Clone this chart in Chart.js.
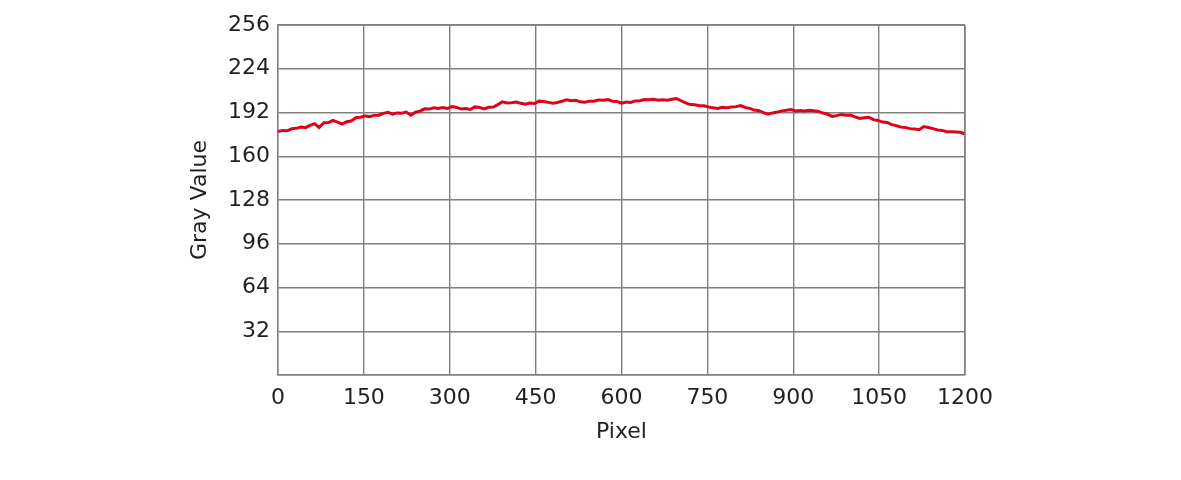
<!DOCTYPE html>
<html>
<head>
<meta charset="utf-8">
<script src="https://cdn.jsdelivr.net/npm/chart.js@4/dist/chart.umd.min.js"></script>
<style>
    html, body { margin: 0; padding: 0; background: #fff; }
    #wrap { width: 1181px; height: 480px; }
</style>
</head>
<body>
<div id="wrap"><canvas id="graph1"></canvas></div>
<script>
// posiciones (pixel) y valores de gris
const pixelPos = [
    0, 8, 16, 24, 32, 40, 48, 56, 64, 72, 80, 88, 96, 104, 112, 120, 128, 136, 144, 152,
    160, 168, 176, 184, 192, 200, 208, 216, 224, 232, 240, 248, 256, 264, 272, 280, 288, 296, 304, 312,
    320, 328, 336, 344, 352, 360, 368, 376, 384, 392, 400, 408, 416, 424, 432, 440, 448, 456, 464, 472,
    480, 488, 496, 504, 512, 520, 528, 536, 544, 552, 560, 568, 576, 584, 592, 600, 608, 616, 624, 632,
    640, 648, 656, 664, 672, 680, 688, 696, 704, 712, 720, 728, 736, 744, 752, 760, 768, 776, 784, 792,
    800, 808, 816, 824, 832, 840, 848, 856, 864, 872, 880, 888, 896, 904, 912, 920, 928, 936, 944, 952,
    960, 968, 976, 984, 992, 1000, 1008, 1016, 1024, 1032, 1040, 1048, 1056, 1064, 1072, 1080, 1088, 1096, 1104, 1112,
    1120, 1128, 1136, 1144, 1152, 1160, 1168, 1176, 1184, 1192, 1200
];
const grayValue = [
    178.0, 178.9, 178.6, 180.1, 180.4, 181.3, 180.9, 182.6, 183.8, 181.1, 184.5, 184.6, 186.3, 185.0, 183.6, 185.2, 185.8, 188.2, 188.5, 189.5,
    189.0, 189.9, 190.0, 191.4, 192.2, 190.8, 191.7, 191.4, 192.3, 190.0, 192.2, 193.0, 194.7, 194.5, 195.5, 195.0, 195.6, 194.9, 196.3, 195.7,
    194.5, 194.9, 194.2, 196.1, 195.7, 194.6, 195.8, 196.0, 197.8, 199.8, 199.0, 199.2, 199.7, 198.7, 198.0, 198.9, 198.6, 200.3, 200.0, 199.4,
    198.7, 199.3, 200.2, 201.3, 200.6, 201.0, 199.8, 199.5, 200.3, 200.2, 201.2, 201.0, 201.4, 200.3, 200.1, 198.8, 199.6, 199.3, 200.5, 200.6,
    201.5, 201.4, 201.7, 200.9, 201.4, 200.9, 201.7, 202.2, 200.6, 199.0, 197.8, 197.7, 196.9, 196.9, 196.0, 195.4, 195.0, 195.8, 195.4, 196.0,
    196.3, 197.1, 195.6, 195.0, 193.8, 193.3, 191.9, 190.8, 191.7, 192.3, 193.2, 193.6, 194.2, 193.1, 193.5, 193.1, 193.6, 193.3, 192.8, 191.6,
    190.7, 189.2, 189.7, 190.6, 190.0, 190.1, 188.8, 187.6, 188.1, 188.5, 186.8, 186.2, 185.0, 184.7, 183.1, 182.4, 181.3, 181.1, 180.2, 180.0,
    179.4, 181.7, 181.0, 180.2, 179.2, 178.9, 178.0, 178.0, 177.8, 177.5, 176.3
];
const xTicks = [0, 150, 300, 450, 600, 750, 900, 1050, 1200];
const yTicks = [32, 64, 96, 128, 160, 192, 224, 256];

const fuente = 'DejaVu Sans, sans-serif';
const gris = '#808080';
const texto = '#231f20';

function init() {
    const ctx = document.getElementById('graph1').getContext('2d');
    const puntos = pixelPos.map((p, i) => ({ x: p, y: grayValue[i] }));

    new Chart(ctx, {
        type: 'line',
        data: {
            datasets: [{
                label: 'Gray Value',
                data: puntos,
                borderColor: '#e3001b',
                borderWidth: 3,
                pointRadius: 0,
                tension: 0,
                fill: false
            }]
        },
        options: {
            responsive: true,
            maintainAspectRatio: false,
            animation: false,
            layout: {
                padding: { left: 187, right: 216, top: 25, bottom: 35 }
            },
            plugins: {
                legend: { display: false },
                tooltip: { enabled: false }
            },
            scales: {
                x: {
                    type: 'linear',
                    min: 0,
                    max: 1200,
                    afterFit: (scale) => { scale.height = 70; },
                    afterBuildTicks: (scale) => { scale.ticks = xTicks.map(v => ({ value: v })); },
                    grid: { color: gris, lineWidth: 1.4, drawTicks: false },
                    border: { color: gris, width: 1.4 },
                    ticks: {
                        padding: 10,
                        maxRotation: 0,
                        color: texto,
                        font: { family: fuente, size: 22 },
                        callback: (v) => String(v)
                    },
                    title: {
                        display: true,
                        text: 'Pixel',
                        color: texto,
                        padding: 0,
                        font: { family: fuente, size: 22 }
                    }
                },
                y: {
                    min: 0,
                    max: 256,
                    afterFit: (scale) => { scale.width = 91; },
                    afterBuildTicks: (scale) => { scale.ticks = [0].concat(yTicks).map(v => ({ value: v })); },
                    grid: { color: gris, lineWidth: 1.4, drawTicks: false },
                    border: { color: gris, width: 1.4 },
                    ticks: {
                        padding: 8,
                        color: texto,
                        font: { family: fuente, size: 22 },
                        callback: (v) => v === 0 ? '' : String(v)
                    },
                    title: {
                        display: true,
                        text: 'Gray Value',
                        color: texto,
                        padding: 0,
                        font: { family: fuente, size: 22 }
                    }
                }
            }
        },
        plugins: [{
            id: 'bordeDerecho',
            afterDraw(chart) {
                const a = chart.chartArea;
                const c = chart.ctx;
                c.save();
                c.strokeStyle = gris;
                c.lineWidth = 1.4;
                c.beginPath();
                c.moveTo(a.right, a.top);
                c.lineTo(a.right, a.bottom);
                c.moveTo(a.left, a.top);
                c.lineTo(a.right, a.top);
                c.stroke();
                c.restore();
            }
        }]
    });
}

document.addEventListener('DOMContentLoaded', function () {
    init();
});
</script>
</body>
</html>
